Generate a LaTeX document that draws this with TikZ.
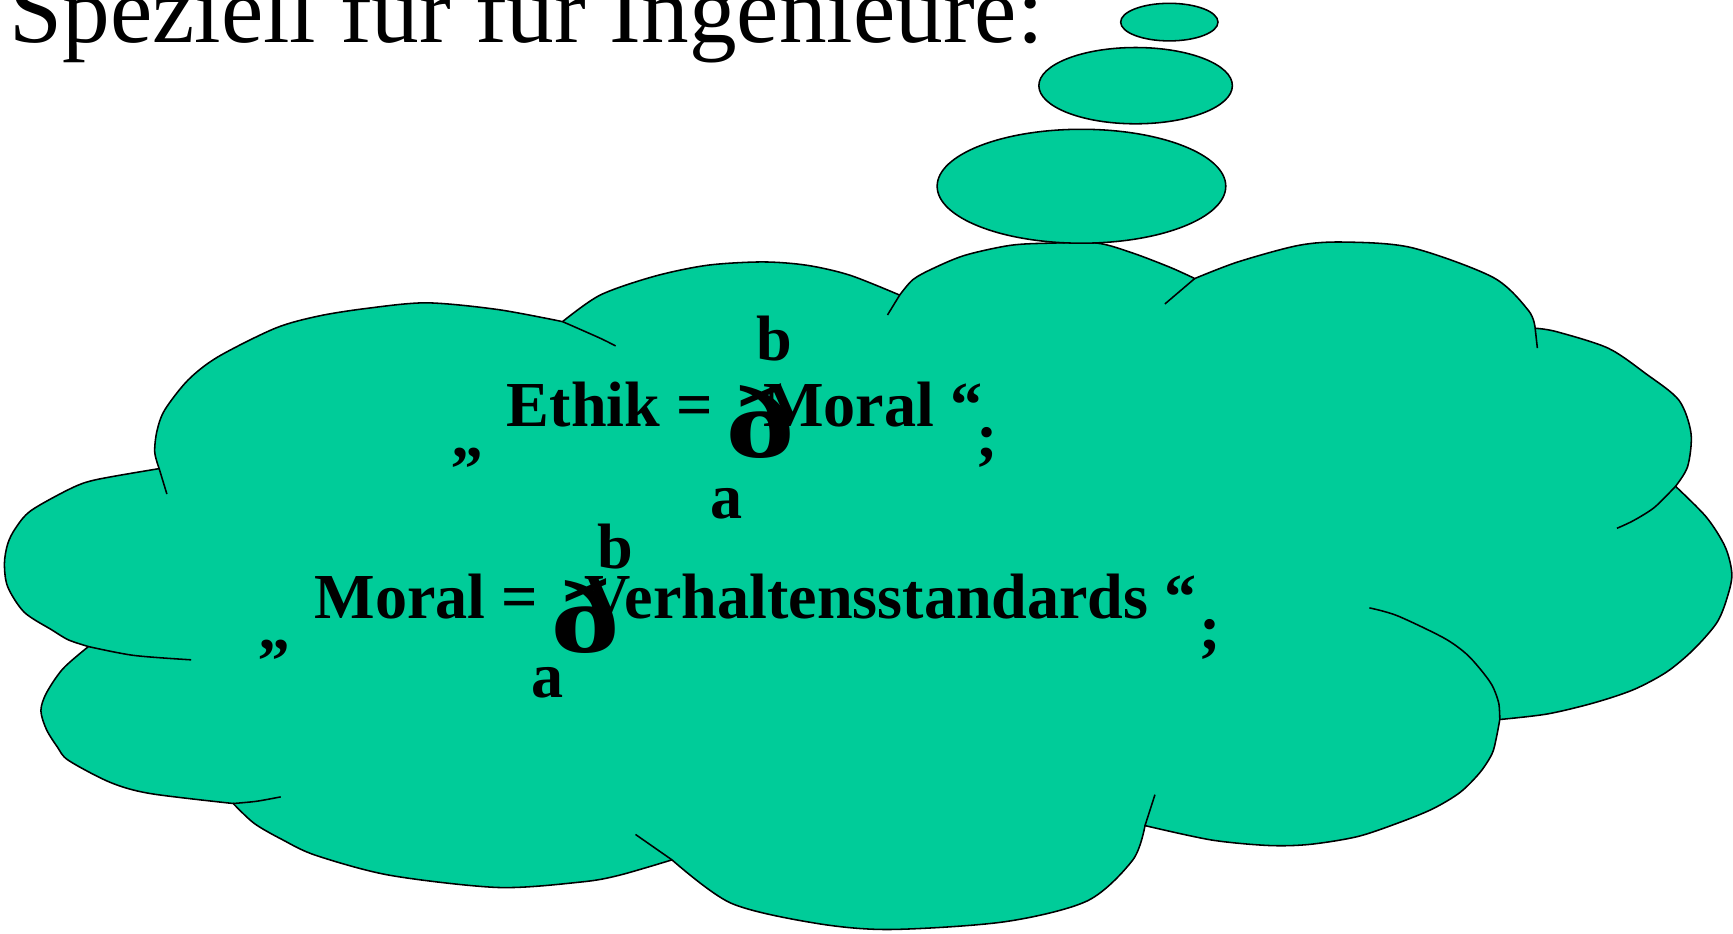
\documentclass[tikz,border=0pt]{standalone}
\usepackage{fontspec}
\setmainfont{Liberation Serif}
\usepackage{tikz}
\usetikzlibrary{shapes.geometric}
\definecolor{cloudgreen}{RGB}{0,204,153}

\begin{document}
\begin{tikzpicture}[x=0.01cm,y=-0.01cm,
                    cloudbody/.style={draw,fill=cloudgreen,line width=0.4pt,line join=round},
                    fold/.style={draw,line width=0.4pt},
                    puff/.style={draw,ellipse,fill=cloudgreen,line width=0.4pt,inner sep=0pt},
                    word/.style={anchor=base west,inner sep=0pt,font=\fontsize{16.5pt}{19pt}\selectfont\bfseries},
                    sigma/.style={anchor=base west,inner sep=0pt,font=\fontsize{26.7pt}{30pt}\selectfont\bfseries}]
    \useasboundingbox (0,0) rectangle (1568,845);

    \node[anchor=base west,inner sep=0pt,font=\fontsize{24.5pt}{29pt}\selectfont] (title) at (8,38) {Speziell für für Ingenieure:};

    \path[cloudbody] plot[smooth] coordinates {(144,424) (140,409) (142,390) (149,371) (170,344) (197,323) (249,297) (288,286) (332,279) (386,274) (450,280) (509,291)}
        -- plot[smooth] coordinates {(509,291) (543,267) (592,250) (640,240) (690,237) (730,240) (769,249) (814,267)}
        -- plot[smooth] coordinates {(814,267) (826,253) (844,243) (873,231) (914,222) (950,220) (993,220) (1025,229) (1059,242) (1081,252)}
        -- plot[smooth] coordinates {(1081,252) (1120,237) (1175,222) (1216,219) (1277,224) (1351,251) (1383,281) (1389,297)}
        -- plot[smooth] coordinates {(1389,297) (1408,300) (1455,315) (1489,338) (1519,362) (1530,392) (1527,422) (1516,440)}
        -- plot[smooth] coordinates {(1516,440) (1544,468) (1561,495) (1567,520) (1562,543) (1553,564) (1532,588) (1508,608) (1478,624) (1442,636) (1400,646) (1357,651)}
        -- plot[smooth] coordinates {(1357,651) (1354,667) (1350,682) (1339,699) (1321,717) (1296,732) (1264,745) (1228,757) (1185,764) (1148,765) (1096,760) (1036,747)}
        -- plot[smooth] coordinates {(1036,747) (1025,778) (984,815) (909,834) (804,841) (736,835) (661,817) (608,778)}
        -- plot[smooth] coordinates {(608,778) (560,792) (526,798) (451,803) (353,792) (286,774) (256,760) (230,745) (211,727)}
        -- plot[smooth] coordinates {(211,727) (136,718) (100,708) (62,688) (52,676) (42,660) (37,643) (42,627) (57,605) (80,585)}
        -- plot[smooth] coordinates {(80,585) (62,579) (47,570) (22,554) (7,531) (4,510) (7,492) (14,478) (28,462) (64,442) (87,434) (144,424)}
        -- cycle;

    \draw[fold] (144,424) -- (151,447);
    \draw[fold] plot[smooth] coordinates {(509,291) (543,306) (557,313)};
    \draw[fold] (814,267) -- (803,285);
    \draw[fold] (1081,252) -- (1054,275);
    \draw[fold] (1389,297) -- (1391,315);
    \draw[fold] plot[smooth] coordinates {(1516,440) (1497,459) (1478,471) (1463,478)};
    \draw[fold] plot[smooth] coordinates {(1357,651) (1356,636) (1350,620) (1339,605) (1326,591) (1306,577) (1264,557) (1239,550)};
    \draw[fold] (1036,747) -- (1045,719);
    \draw[fold] (608,778) -- (575,755);
    \draw[fold] plot[smooth] coordinates {(211,727) (232,725) (254,721)};
    \draw[fold] plot[smooth] coordinates {(80,585) (121,593) (173,597)};

    \node[puff,minimum width=2.61cm,minimum height=1.03cm] (bigpuff) at (978.5,168.5) {};
    \node[puff,minimum width=1.75cm,minimum height=0.69cm] (midpuff) at (1027.5,77.5) {};
    \node[puff,minimum width=0.88cm,minimum height=0.34cm] (smallpuff) at (1058,20) {};

    \node[word] (quoteA) at (408,414) {„};
    \node[word] (ethik) at (458,386) {Ethik =};
    \node[sigma] (sumA) at (656,414) {\scalebox{1.35}[1]{ð}};
    \node[word] (moralA) at (690,386) {Moral “};
    \node[word] (semiA) at (883,414) {;};
    \node[word] (upperA) at (684,326) {b};
    \node[word] (lowerA) at (642,469) {a};

    \node[word] (quoteB) at (233,588) {„};
    \node[word] (moralB) at (284,560) {Moral =};
    \node[sigma] (sumB) at (497,590) {\scalebox{1.35}[1]{ð}};
    \node[word] (standards) at (528,560) {Verhaltensstandards “};
    \node[word] (semiB) at (1085,588) {;};
    \node[word] (upperB) at (540,514) {b};
    \node[word] (lowerB) at (480,631) {a};
\end{tikzpicture}
\end{document}
